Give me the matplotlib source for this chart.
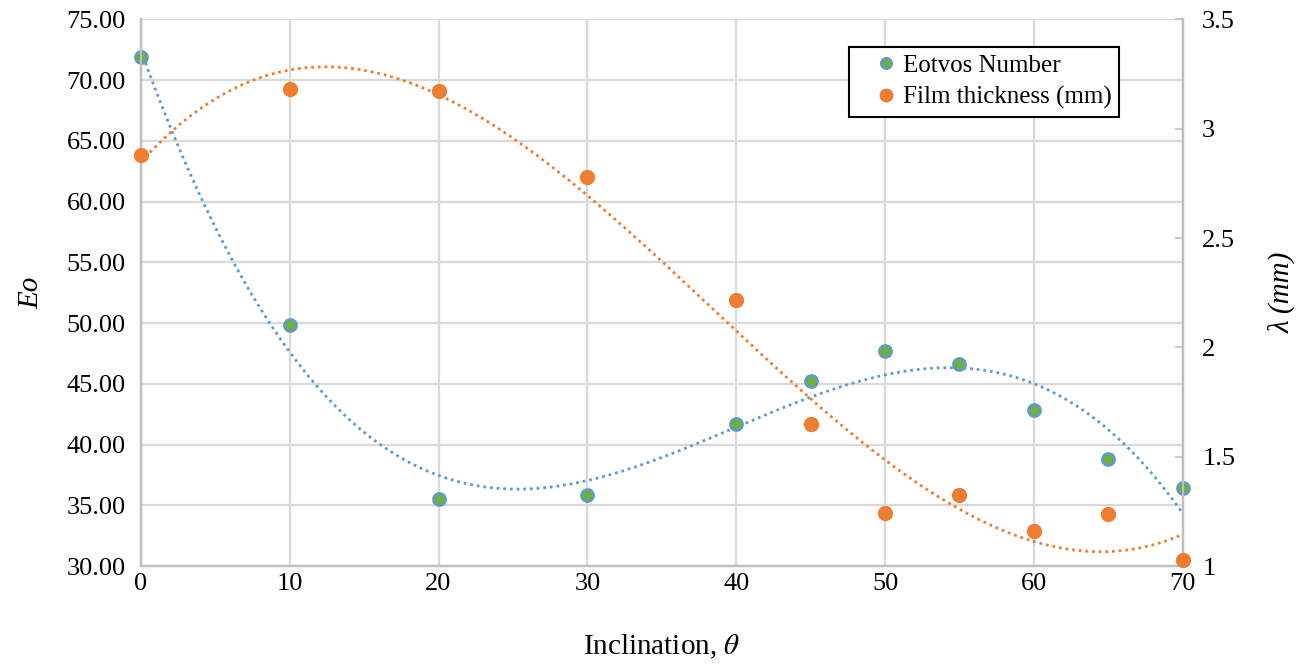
import numpy as np
import matplotlib.pyplot as plt
from matplotlib.lines import Line2D

plt.rcParams['font.family'] = ['Liberation Serif', 'DejaVu Serif']
plt.rcParams['mathtext.fontset'] = 'stix'

# inclination angle (deg)
inclination = [0, 10, 20, 30, 40, 45, 50, 55, 60, 65, 70]
# Eotvos number (left axis)
eotvos = [71.87, 49.82, 35.5, 35.87, 41.72, 45.24, 47.73, 46.64, 42.87, 38.84, 36.45]
# film thickness in mm (right axis)
film = [2.88, 3.18, 3.17, 2.78, 2.215, 1.65, 1.245, 1.325, 1.16, 1.24, 1.03]

blue = '#5b9bd5'
green = '#70ad47'
orange = '#ed7d31'
grey = '#d9d9d9'
spine = '#bfbfbf'

fig = plt.figure(figsize=(13.04, 6.66), dpi=100)
ax = fig.add_axes([0.108, 0.150, 0.799, 0.821])
ax2 = ax.twinx()

x = np.array(inclination, dtype=float)
xs = np.linspace(0, 70, 300)

# polynomial (order 3) trendlines, like the spreadsheet ones
p1 = np.polyfit(x, eotvos, 3)
p2 = np.polyfit(x, film, 3)
ax.plot(xs, np.polyval(p1, xs), color=blue, linestyle=(0, (1, 1.4)), lw=2.0, zorder=2)
ax2.plot(xs, np.polyval(p2, xs), color=orange, linestyle=(0, (1, 1.4)), lw=2.0, zorder=2)

ax.plot(x, eotvos, 'o', ms=9, mfc=green, mec=blue, mew=1.6, ls='', clip_on=False, zorder=3)
ax2.plot(x, film, 'o', ms=10, mfc=orange, mec=orange, ls='', clip_on=False, zorder=3)

ax.set_xlim(0, 70)
ax.set_ylim(30, 75)
ax2.set_ylim(1, 3.5)
ax.set_xticks(np.arange(0, 71, 10))
ax.set_yticks(np.arange(30, 76, 5))
ax.set_yticklabels(['%.2f' % v for v in np.arange(30, 76, 5)])
ax2.set_yticks([1, 1.5, 2, 2.5, 3, 3.5])
ax2.set_yticklabels(['1', '1.5', '2', '2.5', '3', '3.5'])

ax.grid(True, color=grey, lw=1.6)
ax.set_axisbelow(True)
for a in (ax, ax2):
    a.spines['top'].set_visible(False)
    for s in ('left', 'bottom', 'right'):
        a.spines[s].set_color(spine)
        a.spines[s].set_linewidth(1.6)
ax.tick_params(axis='both', length=0, labelsize=19)
ax.tick_params(axis='y', pad=11)
ax.tick_params(axis='x', pad=5)
ax2.tick_params(axis='y', direction='in', length=6, width=1.2, color=spine, labelsize=19, pad=14)

ax.set_xlabel(r'Inclination, $\theta$', fontsize=21, labelpad=27)
ax.set_ylabel('Eo', fontsize=21, style='italic', labelpad=16)
ax2.set_ylabel('λ (mm)', fontsize=21, style='italic', labelpad=24)

handles = [
    Line2D([], [], marker='o', ls='', ms=8, mfc=green, mec=blue, mew=1.4),
    Line2D([], [], marker='o', ls='', ms=9, mfc=orange, mec=orange),
]
leg = ax2.legend(handles, ['Eotvos Number', 'Film thickness (mm)'],
                 loc='upper left', bbox_to_anchor=(0.68, 0.949), fontsize=18,
                 frameon=True, fancybox=False, edgecolor='black', framealpha=1,
                 handlelength=2.3, handletextpad=-0.45, borderpad=0.3, labelspacing=0.35,
                 borderaxespad=0)
leg.get_frame().set_linewidth(1.5)

fig.savefig('out.png', dpi=100)
